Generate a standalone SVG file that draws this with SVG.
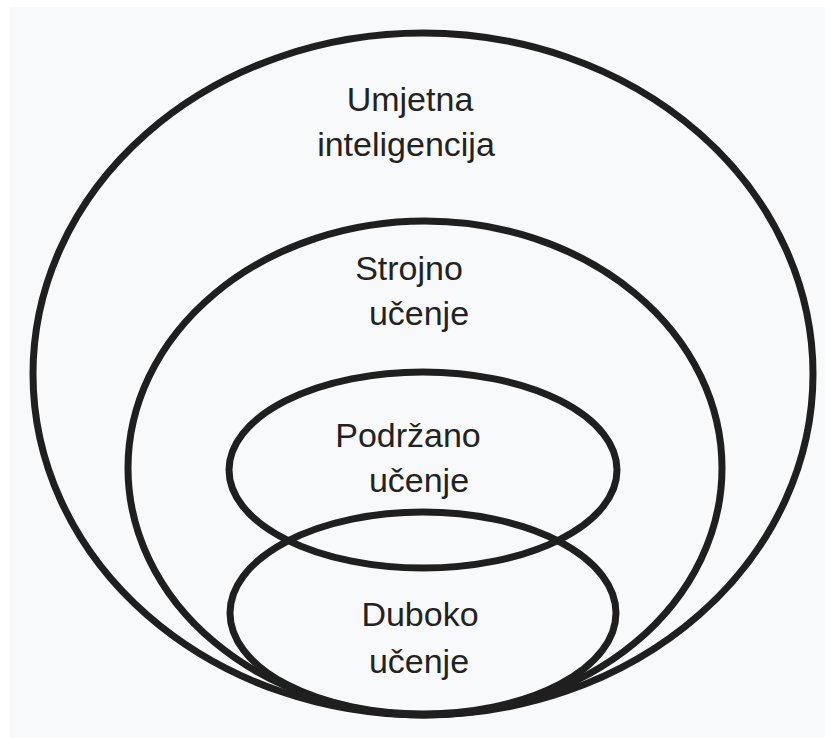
<svg xmlns="http://www.w3.org/2000/svg" width="825" height="738" viewBox="0 0 825 738">
<style>
.set{fill:none;stroke:#1f1f1f;stroke-width:7}
.lbl{font-family:"Liberation Sans",Arial,sans-serif;font-size:34px;fill:#222;text-anchor:middle}
</style>
<rect width="825" height="738" fill="#ffffff"/>
<rect x="10" y="7" width="815" height="731" fill="#f8f9fa"/>
<g id="ai">
<ellipse class="set" cx="423" cy="374" rx="390" ry="341"/>
<text class="lbl" x="410" y="111">Umjetna</text>
<text class="lbl" x="406" y="156">inteligencija</text>
</g>
<g id="ml">
<ellipse class="set" cx="425" cy="468" rx="297" ry="247"/>
<text class="lbl" x="409" y="280">Strojno</text>
<text class="lbl" x="419" y="325">učenje</text>
</g>
<g id="rl">
<ellipse class="set" cx="423" cy="470" rx="194" ry="98"/>
<text class="lbl" x="408" y="447">Podržano</text>
<text class="lbl" x="419" y="492">učenje</text>
</g>
<g id="dl">
<ellipse class="set" cx="423" cy="613" rx="193" ry="101"/>
<text class="lbl" x="420" y="626">Duboko</text>
<text class="lbl" x="419" y="673">učenje</text>
</g>
</svg>
